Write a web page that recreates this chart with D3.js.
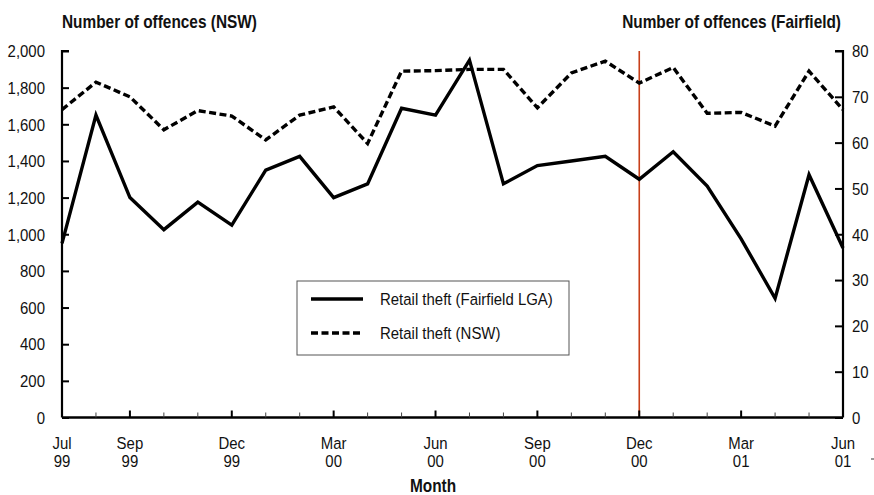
<!DOCTYPE html>
<html>
<head>
<meta charset="utf-8">
<script src="https://cdn.jsdelivr.net/npm/d3@7"></script>
<style>
  html, body { margin: 0; padding: 0; background: #fff; }
  svg { display: block; }
  text { font-family: "Liberation Sans", Arial, sans-serif; fill: #111; }
</style>
</head>
<body>
<svg id="chart" width="874" height="495"></svg>
<script>
// ---- data ----
const months = ["Jul 99","Aug 99","Sep 99","Oct 99","Nov 99","Dec 99",
                "Jan 00","Feb 00","Mar 00","Apr 00","May 00","Jun 00",
                "Jul 00","Aug 00","Sep 00","Oct 00","Nov 00","Dec 00",
                "Jan 01","Feb 01","Mar 01","Apr 01","May 01","Jun 01"];
const fairfield = [38, 66, 48, 41, 47, 42, 54, 57, 48, 51, 67.5, 66,
                   78, 51, 55, 56, 57, 52, 58, 50.5, 39, 26, 53, 37];
const nsw = [1680, 1830, 1750, 1570, 1675, 1645, 1515, 1650, 1695, 1495, 1890, 1893,
             1900, 1900, 1690, 1880, 1945, 1825, 1910, 1660, 1665, 1590, 1890, 1680];
const labelledMonths = ["Jul 99","Sep 99","Dec 99","Mar 00","Jun 00","Sep 00","Dec 00","Mar 01","Jun 01"];
const leftTicks = [0, 200, 400, 600, 800, 1000, 1200, 1400, 1600, 1800, 2000];
const rightTicks = [0, 10, 20, 30, 40, 50, 60, 70, 80];
const markerMonth = "Dec 00";
const legendItems = ["Retail theft (Fairfield LGA)", "Retail theft (NSW)"];

// ---- layout ----
const svg = d3.select("#chart");
const L = 62, R = 843, T = 51, B = 417.5;
const SX = 0.88; // horizontal squeeze of the original lettering

const x = d3.scalePoint().domain(months).range([L, R]);
const yL = d3.scaleLinear().domain([0, 2000]).range([B, T]);
const yR = d3.scaleLinear().domain([0, 80]).range([B, T]);

function label(parent, px, py, str, size, anchor, bold) {
  return parent.append("text")
    .attr("transform", `translate(${px},${py}) scale(${SX},1)`)
    .attr("font-size", size)
    .attr("text-anchor", anchor || "start")
    .attr("font-weight", bold ? "bold" : null)
    .text(str);
}

// marker line
svg.append("line")
  .attr("x1", x(markerMonth)).attr("x2", x(markerMonth))
  .attr("y1", T).attr("y2", B)
  .attr("stroke", "#c8401a").attr("stroke-width", 1.6);

// lines
const lineF = d3.line().x((d, i) => x(months[i])).y(d => yR(d));
const lineN = d3.line().x((d, i) => x(months[i])).y(d => yL(d));

svg.append("path").datum(nsw)
  .attr("d", lineN).attr("fill", "none")
  .attr("stroke", "#000").attr("stroke-width", 3.4)
  .attr("stroke-dasharray", "7,3.5");

svg.append("path").datum(fairfield)
  .attr("d", lineF).attr("fill", "none")
  .attr("stroke", "#000").attr("stroke-width", 3.4)
  .attr("stroke-linejoin", "miter");

// left axis
const gL = svg.append("g").attr("transform", `translate(${L},0)`)
  .call(d3.axisRight(yL).tickValues(leftTicks).tickSize(7).tickFormat(d3.format(",")));
gL.select(".domain").attr("stroke-width", 2.2).attr("d", `M7,${T}H0V${B}`);
gL.selectAll(".tick line").attr("stroke-width", 2);
gL.selectAll(".tick text").attr("x", -17 / SX).attr("dy", "0.34em")
  .attr("text-anchor", "end").attr("transform", `scale(${SX},1)`)
  .attr("font-size", 17).attr("font-family", null).attr("fill", "#111");

// right axis
const gR = svg.append("g").attr("transform", `translate(${R},0)`)
  .call(d3.axisLeft(yR).tickValues(rightTicks).tickSize(8));
gR.select(".domain").attr("stroke-width", 2.2).attr("d", `M-8,${T}H0V${B}`);
gR.selectAll(".tick line").attr("stroke-width", 2);
gR.selectAll(".tick text").attr("x", 9 / SX).attr("dy", "0.34em")
  .attr("text-anchor", "start").attr("transform", `scale(${SX},1)`)
  .attr("font-size", 17).attr("fill", "#111");
svg.selectAll(".tick text").style("font-family", "'Liberation Sans', Arial, sans-serif");
svg.selectAll("g").attr("font-family", null);

// bottom axis
const gB = svg.append("g").attr("transform", `translate(0,${B})`);
gB.append("line").attr("x1", L).attr("x2", R).attr("y1", 0).attr("y2", 0)
  .attr("stroke", "#000").attr("stroke-width", 2.4);
gB.selectAll("line.mt").data(months.slice(1, -1)).enter().append("line")
  .attr("class", "mt")
  .attr("x1", d => x(d)).attr("x2", d => x(d))
  .attr("y1", 0)
  .attr("y2", d => labelledMonths.includes(d) ? -7 : -5)
  .attr("stroke", d => labelledMonths.includes(d) ? "#000" : "#444")
  .attr("stroke-width", d => labelledMonths.includes(d) ? 2 : 1);
labelledMonths.forEach(d => {
  const [m, yy] = d.split(" ");
  label(gB, x(d), 31, m, 17, "middle");
  label(gB, x(d), 49, yy, 17, "middle");
});

// stray mark at bottom right
svg.append("line").attr("x1", 871).attr("x2", 875).attr("y1", 459).attr("y2", 459)
  .attr("stroke", "#333").attr("stroke-width", 1);

// titles
label(svg, 62, 28, "Number of offences (NSW)", 17.5, "start", true);
label(svg, 841, 28, "Number of offences (Fairfield)", 17.5, "end", true);
label(svg, 433, 492, "Month", 17.5, "middle", true);

// legend
const lg = svg.append("g");
lg.append("rect").attr("x", 297).attr("y", 281).attr("width", 272).attr("height", 74)
  .attr("fill", "#fff").attr("stroke", "#555").attr("stroke-width", 1);
lg.append("line").attr("x1", 311).attr("x2", 363).attr("y1", 299).attr("y2", 299)
  .attr("stroke", "#000").attr("stroke-width", 3.4);
lg.append("line").attr("x1", 311).attr("x2", 363).attr("y1", 333).attr("y2", 333)
  .attr("stroke", "#000").attr("stroke-width", 3.4).attr("stroke-dasharray", "7,3.5");
legendItems.forEach((d, i) => label(lg, 380, 305 + i * 34, d, 17, "start"));
</script>
</body>
</html>
